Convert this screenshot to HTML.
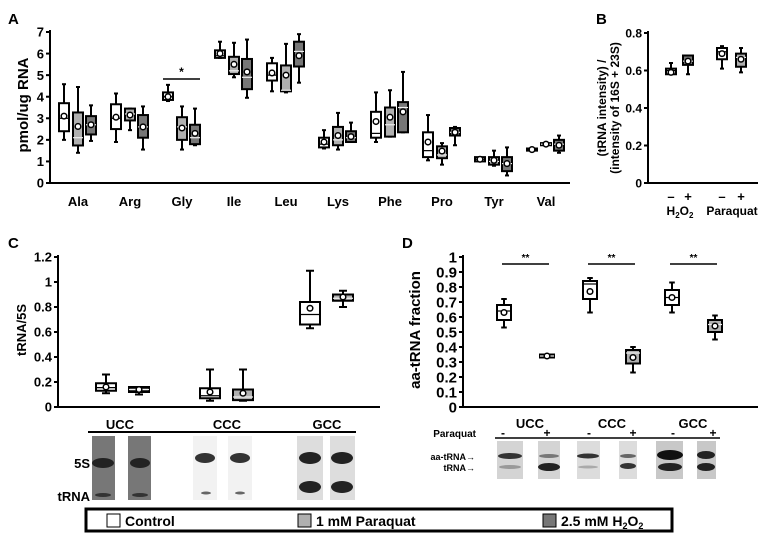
<!DOCTYPE html>
<html><head><meta charset="utf-8"><style>
body{margin:0;background:#fff}
svg{display:block;font-family:"Liberation Sans",Arial,sans-serif;font-weight:bold}
</style></head><body>
<svg id="fig" width="764" height="541" viewBox="0 0 764 541">
<text x="8" y="24" font-size="15">A</text>
<text x="596" y="24" font-size="15">B</text>
<text x="8" y="248" font-size="15">C</text>
<text x="402" y="248" font-size="15">D</text>
<text transform="translate(28,105) rotate(-90)" text-anchor="middle" font-size="15">pmol/ug RNA</text>
<text transform="translate(606,108) rotate(-90)" text-anchor="middle" font-size="12">(tRNA intensity) /</text>
<text transform="translate(619,108) rotate(-90)" text-anchor="middle" font-size="12">(intensity of 16S + 23S)</text>
<text transform="translate(26,330) rotate(-90)" text-anchor="middle" font-size="13">tRNA/5S</text>
<text transform="translate(420,330) rotate(-90)" text-anchor="middle" font-size="15">aa-tRNA fraction</text>
<g id="g"></g>
<text x="671" y="201" font-size="13" text-anchor="middle">–</text>
<text x="688" y="201" font-size="13" text-anchor="middle">+</text>
<text x="722" y="201" font-size="13" text-anchor="middle">–</text>
<text x="741" y="201" font-size="13" text-anchor="middle">+</text>
<text x="680" y="215" font-size="12" text-anchor="middle">H<tspan font-size="8" dy="3">2</tspan><tspan dy="-3">O</tspan><tspan font-size="8" dy="3">2</tspan></text>
<text x="732" y="215" font-size="12" text-anchor="middle">Paraquat</text>
<g>
<text x="120" y="429" font-size="13" text-anchor="middle">UCC</text>
<text x="227" y="429" font-size="13" text-anchor="middle">CCC</text>
<text x="327" y="429" font-size="13" text-anchor="middle">GCC</text>
<line x1="88" y1="432" x2="356" y2="432" stroke="#000" stroke-width="2"/>
<text x="90" y="468" font-size="13" text-anchor="end">5S</text>
<text x="90" y="501" font-size="13" text-anchor="end">tRNA</text>
<rect x="92" y="436" width="23" height="64" fill="#777"/><rect x="128" y="436" width="23" height="64" fill="#777"/>
<ellipse cx="103" cy="463" rx="11" ry="5" fill="#222"/><ellipse cx="140" cy="463" rx="10" ry="5" fill="#222"/>
<ellipse cx="103" cy="495" rx="8" ry="2" fill="#333"/><ellipse cx="140" cy="495" rx="8" ry="2" fill="#333"/>
<rect x="193" y="436" width="24" height="64" fill="#f2f2f2"/><rect x="228" y="436" width="24" height="64" fill="#f2f2f2"/>
<ellipse cx="205" cy="458" rx="10" ry="5" fill="#333"/><ellipse cx="240" cy="458" rx="10" ry="5" fill="#333"/>
<ellipse cx="206" cy="493" rx="5" ry="1.5" fill="#666"/><ellipse cx="240" cy="493" rx="5" ry="1.5" fill="#666"/>
<rect x="297" y="436" width="26" height="64" fill="#ddd"/><rect x="330" y="436" width="25" height="64" fill="#ddd"/>
<ellipse cx="310" cy="458" rx="11" ry="6" fill="#222"/><ellipse cx="342" cy="458" rx="11" ry="6" fill="#222"/>
<ellipse cx="310" cy="487" rx="11" ry="6" fill="#222"/><ellipse cx="342" cy="487" rx="11" ry="6" fill="#222"/>
</g>
<g>
<text x="530" y="428" font-size="13" text-anchor="middle">UCC</text>
<text x="612" y="428" font-size="13" text-anchor="middle">CCC</text>
<text x="693" y="428" font-size="13" text-anchor="middle">GCC</text>
<text x="476" y="437" font-size="10" text-anchor="end">Paraquat</text>
<text x="503" y="437" font-size="12" text-anchor="middle">-</text><text x="547" y="437" font-size="12" text-anchor="middle">+</text>
<text x="589" y="437" font-size="12" text-anchor="middle">-</text><text x="633" y="437" font-size="12" text-anchor="middle">+</text>
<text x="673" y="437" font-size="12" text-anchor="middle">-</text><text x="713" y="437" font-size="12" text-anchor="middle">+</text>
<line x1="495" y1="438" x2="720" y2="438" stroke="#000" stroke-width="1.5"/>
<text x="475" y="460" font-size="9" text-anchor="end">aa-tRNA→</text>
<text x="475" y="471" font-size="9" text-anchor="end">tRNA→</text>
<rect x="497" y="441" width="26" height="38" fill="#d4d4d4"/><rect x="538" y="441" width="22" height="38" fill="#d4d4d4"/>
<rect x="577" y="441" width="23" height="38" fill="#dcdcdc"/><rect x="619" y="441" width="18" height="38" fill="#dcdcdc"/>
<rect x="656" y="441" width="27" height="38" fill="#c8c8c8"/><rect x="697" y="441" width="19" height="38" fill="#c8c8c8"/>
<ellipse cx="510" cy="456" rx="12" ry="3" fill="#333"/><ellipse cx="510" cy="467" rx="11" ry="2" fill="#999"/>
<ellipse cx="549" cy="456" rx="10" ry="2" fill="#777"/><ellipse cx="549" cy="467" rx="11" ry="4" fill="#222"/>
<ellipse cx="588" cy="456" rx="11" ry="2.5" fill="#333"/><ellipse cx="588" cy="467" rx="10" ry="1.5" fill="#aaa"/>
<ellipse cx="628" cy="456" rx="8" ry="2" fill="#666"/><ellipse cx="628" cy="466" rx="8" ry="3" fill="#333"/>
<ellipse cx="670" cy="455" rx="13" ry="5" fill="#111"/><ellipse cx="670" cy="467" rx="12" ry="4" fill="#222"/>
<ellipse cx="706" cy="455" rx="9" ry="4" fill="#222"/><ellipse cx="706" cy="467" rx="9" ry="4" fill="#222"/>
</g>
<g>
<rect x="86" y="509" width="586" height="22" fill="#fff" stroke="#000" stroke-width="3"/>
<rect x="107" y="514" width="13" height="13" fill="#fff" stroke="#000"/>
<text x="125" y="526" font-size="14">Control</text>
<rect x="298" y="514" width="13" height="13" fill="#b0b0b0" stroke="#000"/>
<text x="316" y="526" font-size="14">1 mM Paraquat</text>
<rect x="543" y="514" width="13" height="13" fill="#777" stroke="#000"/>
<text x="561" y="526" font-size="14">2.5 mM H<tspan font-size="9" dy="3">2</tspan><tspan dy="-3">O</tspan><tspan font-size="9" dy="3">2</tspan></text>
</g>
</svg>
<script>
const aCategories=["Ala","Arg","Gly","Ile","Leu","Lys","Phe","Pro","Tyr","Val"];
const aTicks=[0,1,2,3,4,5,6,7];
const aControl=[[2.0,2.4,3.0,3.7,4.58,3.1],[1.9,2.5,3.0,3.65,4.15,3.05],[3.8,3.85,4.0,4.2,4.55,4.0],[5.8,5.8,5.9,6.15,6.55,6.0],[4.25,4.75,5.0,5.55,5.8,5.1],[1.6,1.65,1.8,2.1,2.45,1.9],[1.9,2.1,2.3,3.3,4.2,2.85],[1.05,1.2,1.5,2.35,3.15,1.9],[1.0,1.0,1.1,1.2,1.2,1.1],[1.5,1.5,1.55,1.6,1.6,1.55]];
const aParaquat=[[1.4,1.74,2.1,3.27,4.45,2.62],[2.45,2.9,3.2,3.45,3.45,3.15],[1.55,2.0,2.6,3.05,3.55,2.55],[4.9,5.05,5.2,5.85,6.5,5.5],[4.2,4.25,4.3,5.45,6.45,5.0],[1.55,1.75,2.0,2.6,3.25,2.2],[2.15,2.15,2.7,3.5,4.3,3.05],[0.85,1.15,1.3,1.7,1.85,1.48],[0.8,0.85,1.0,1.2,1.5,1.05],[1.75,1.75,1.8,1.85,1.85,1.8]];
const aH2O2=[[1.95,2.25,2.7,3.1,3.6,2.7],[1.55,2.1,2.6,3.15,3.55,2.6],[1.75,1.8,2.1,2.7,3.45,2.3],[3.95,4.35,4.9,5.75,6.65,5.15],[4.65,5.4,6.1,6.55,6.9,5.9],[1.9,1.9,2.1,2.4,2.8,2.15],[2.35,2.35,3.5,3.75,5.15,3.3],[1.75,2.2,2.35,2.55,2.6,2.35],[0.35,0.55,0.9,1.2,1.65,0.9],[1.4,1.5,1.8,2.0,2.2,1.75]];
const bCategories=["H2O2 -","H2O2 +","Paraquat -","Paraquat +"];
const bTicks=[0,0.2,0.4,0.6,0.8];
const bValues=[[0.58,0.58,0.6,0.61,0.64,0.59],[0.58,0.63,0.65,0.68,0.68,0.65],[0.61,0.66,0.7,0.72,0.73,0.69],[0.59,0.62,0.67,0.69,0.72,0.66]];
const cCategories=["UCC","CCC","GCC"];
const cTicks=[0,0.2,0.4,0.6,0.8,1,1.2];
const cTickLabels=["0","0.2","0.4","0.6","0.8","1","1.2"];
const cControl=[[0.11,0.13,0.155,0.19,0.26,0.16],[0.05,0.07,0.09,0.15,0.3,0.12],[0.63,0.66,0.74,0.84,1.09,0.79]];
const cParaquat=[[0.1,0.12,0.14,0.16,0.16,0.14],[0.05,0.055,0.08,0.14,0.3,0.11],[0.8,0.85,0.87,0.9,0.93,0.88]];
const dCategories=["UCC","CCC","GCC"];
const dTicks=[0,0.1,0.2,0.3,0.4,0.5,0.6,0.7,0.8,0.9,1];
const dTickLabels=["0","0.1","0.2","0.3","0.4","0.5","0.6","0.7","0.8","0.9","1"];
const dControl=[[0.53,0.58,0.64,0.68,0.72,0.63],[0.63,0.72,0.82,0.84,0.86,0.77],[0.63,0.68,0.73,0.78,0.83,0.73]];
const dParaquat=[[0.33,0.33,0.34,0.35,0.35,0.34],[0.23,0.29,0.36,0.38,0.4,0.33],[0.45,0.5,0.55,0.58,0.61,0.54]];

const NS="http://www.w3.org/2000/svg";
const G=document.getElementById("g");
function mk(tag,attrs,parent){const e=document.createElementNS(NS,tag);for(const k in attrs)e.setAttribute(k,attrs[k]);(parent||G).appendChild(e);return e;}
function lin(d0,d1,r0,r1){return v=>r0+(v-d0)*(r1-r0)/(d1-d0);}
function axis(x0,x1,y0,y1,ys,ticks,labels,fs,name){
  const g=mk("g",{});
  
  
  mk("line",{x1:x0,y1:y0,x2:x1,y2:y0,stroke:"#000","stroke-width":2},g);
  mk("line",{x1:x0,y1:y0,x2:x0,y2:y1,stroke:"#000","stroke-width":2},g);
  ticks.forEach((t,i)=>{const y=ys(t);
    mk("line",{x1:x0-4,y1:y,x2:x0,y2:y,stroke:"#000","stroke-width":2},g);
    const tx=mk("text",{x:x0-6,y:y+fs*0.36,"text-anchor":"end","font-size":fs},g);tx.textContent=labels?labels[i]:String(t);});
}
function box(cx,w,d,ys,fill,name){
  const g=mk("g",{});
  
  
  const [mn,q1,md,q3,mx,mean]=d;
  mk("line",{x1:cx,y1:ys(mx),x2:cx,y2:ys(q3),stroke:"#000","stroke-width":2},g);
  mk("line",{x1:cx,y1:ys(q1),x2:cx,y2:ys(mn),stroke:"#000","stroke-width":2},g);
  mk("line",{x1:cx-w*0.2,y1:ys(mx),x2:cx+w*0.2,y2:ys(mx),stroke:"#000","stroke-width":2},g);
  mk("line",{x1:cx-w*0.2,y1:ys(mn),x2:cx+w*0.2,y2:ys(mn),stroke:"#000","stroke-width":2},g);
  const h=Math.max(ys(q1)-ys(q3),2);
  mk("rect",{x:cx-w/2,y:ys(q3),width:w,height:h,fill:fill,stroke:"#000","stroke-width":2},g);
  mk("line",{x1:cx-w/2,y1:ys(md),x2:cx+w/2,y2:ys(md),stroke:fill=="#fff"?"#000":"#eee","stroke-width":1.2},g);
  mk("circle",{cx:cx,cy:ys(mean),r:2.8,fill:"#fff",stroke:"#000","stroke-width":1.5},g);
}
function sig(x1,x2,y,txt,fs){
  const l=mk("line",{x1:x1,y1:y,x2:x2,y2:y,stroke:"#000","stroke-width":1.5});
  
  
  const t=mk("text",{x:(x1+x2)/2,y:y-3,"text-anchor":"middle","font-size":fs});t.textContent=txt;
  
  
}
const aY=lin(0,7,183,32);
axis(50,570,183,30,aY,aTicks,null,13,"a-axes");
const aX=i=>78+i*52;
aCategories.forEach((c,i)=>{
  box(aX(i)-14,10,aControl[i],aY,"#fff","a-box-control-"+c.toLowerCase());
  box(aX(i),10,aParaquat[i],aY,"#b0b0b0","a-box-paraquat-"+c.toLowerCase());
  box(aX(i)+13,10,aH2O2[i],aY,"#777","a-box-h2o2-"+c.toLowerCase());
  const t=mk("text",{x:aX(i),y:206,"text-anchor":"middle","font-size":13});t.textContent=c;
  
  
});
sig(aX(2)-19,aX(2)+18,79,"*",12);
const bY=lin(0,0.8,183,33);
axis(648,758,183,31,bY,bTicks,null,12,"b-axes");
const bX=[671,688,722,741];
const bFill=["#fff","#777","#fff","#b0b0b0"];
bCategories.forEach((c,i)=>box(bX[i],10,bValues[i],bY,bFill[i],"b-box-"+i));
const cY=lin(0,1.2,407,257);
axis(58,380,407,255,cY,cTicks,cTickLabels,13,"c-axes");
const cX=i=>[123,227,327][i];
cCategories.forEach((c,i)=>{
  box(cX(i)-17,20,cControl[i],cY,"#fff","c-box-control-"+c.toLowerCase());
  box(cX(i)+16,20,cParaquat[i],cY,i==0?"#222":"#b0b0b0","c-box-paraquat-"+c.toLowerCase());
});
const dY=lin(0,1,407,257);
axis(463,758,407,255,dY,dTicks,dTickLabels,15,"d-axes");
const dX=i=>[525,611,693][i];
dCategories.forEach((c,i)=>{
  box(dX(i)-21,14,dControl[i],dY,"#fff","d-box-control-"+c.toLowerCase());
  box(dX(i)+22,14,dParaquat[i],dY,i==0?"#222":"#b0b0b0","d-box-paraquat-"+c.toLowerCase());
  sig(dX(i)-23,dX(i)+24,264,"**",10);
});
</script>
</body></html>
